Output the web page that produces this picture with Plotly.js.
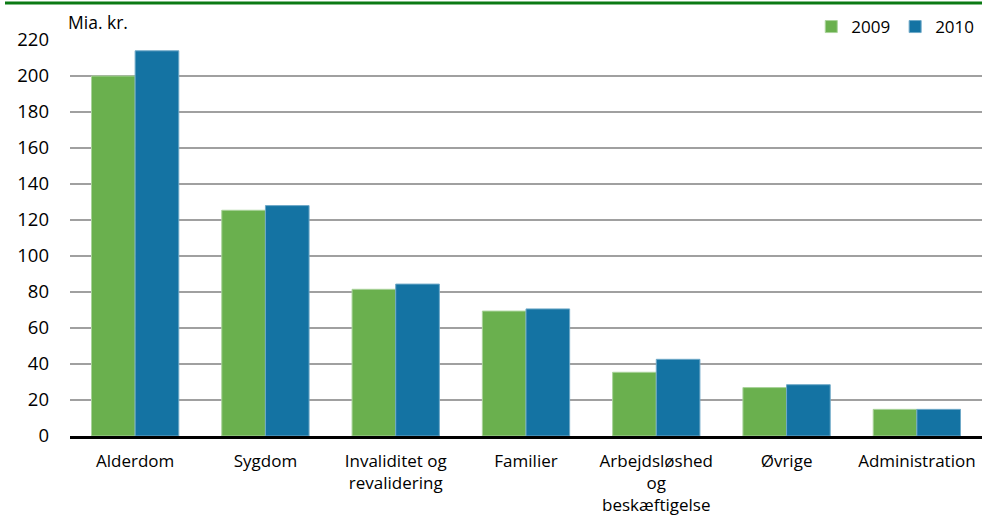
<!DOCTYPE html>
<html>
<head>
<meta charset="utf-8">
<script src="https://cdn.plot.ly/plotly-3.0.1.min.js"></script>
<style>html,body{margin:0;padding:0;background:#fff;}#chart{width:982px;height:525px;}</style>
</head>
<body>
<div id="chart"></div>
<script>
const categories = ["Alderdom", "Sygdom", "Invaliditet og<br>revalidering", "Familier", "Arbejdsløshed<br>og<br>beskæftigelse", "Øvrige", "Administration"];
const values2009 = [200, 125.4, 81.5, 69.4, 35.4, 26.9, 14.8];
const values2010 = [214, 128, 84.4, 70.6, 42.6, 28.5, 14.8];
const seriesNames = ["2009", "2010"];
const yTicks = [0, 20, 40, 60, 80, 100, 120, 140, 160, 180, 200, 220];

const FONT = "Open Sans, Noto Sans, sans-serif";
const traces = [
  {type: "bar", name: seriesNames[0], x: categories, y: values2009,
   marker: {color: "#6ab04e", line: {color: "#a9d39a", width: 1}}},
  {type: "bar", name: seriesNames[1], x: categories, y: values2010,
   marker: {color: "#1473a3", line: {color: "#6fa9c8", width: 1}}}
];
const layout = {
  width: 982, height: 525,
  margin: {l: 70, r: 0, t: 40, b: 89},
  paper_bgcolor: "#fff", plot_bgcolor: "#fff",
  font: {family: FONT, size: 17, color: "#000"},
  barmode: "group", bargap: 0.33, bargroupgap: 0,
  showlegend: true,
  legend: {orientation: "h", x: 0.997, xanchor: "right", y: (436-27)/396, yanchor: "middle",
           font: {family: FONT, size: 17, color: "#000"}, traceorder: "normal",
           itemwidth: 30, bgcolor: "rgba(0,0,0,0)"},
  xaxis: {showgrid: false, showline: true, linecolor: "#000", linewidth: 2.5,
          ticks: "", ticklabelstandoff: 8, tickfont: {family: FONT, size: 17}, fixedrange: true},
  yaxis: {range: [0, 220], tickvals: yTicks, ticktext: yTicks.map(String),
          showgrid: true, gridcolor: "#a0a0a0", gridwidth: 2, zeroline: false,
          ticks: "", ticklabelstandoff: 20, tickfont: {family: FONT, size: 18.5}, fixedrange: true},
  shapes: [
    {type: "line", xref: "paper", yref: "paper", x0: -65/912, x1: 1, y0: (436-3)/396, y1: (436-3)/396,
     line: {color: "#0b7a14", width: 3}}
  ],
  annotations: [
    {xref: "paper", yref: "paper", x: -4/912, y: (436-22)/396, xanchor: "left", yanchor: "middle",
     text: "Mia. kr.", showarrow: false, font: {family: FONT, size: 17.5, color: "#000"}}
  ]
};
Plotly.newPlot("chart", traces, layout, {displayModeBar: false, staticPlot: true});
</script>
</body>
</html>
